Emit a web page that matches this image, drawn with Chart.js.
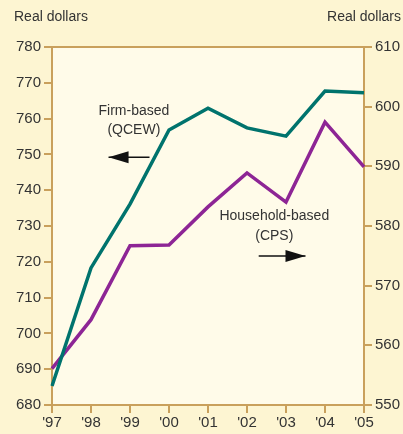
<!DOCTYPE html>
<html>
<head>
<meta charset="utf-8">
<script src="https://cdn.jsdelivr.net/npm/chart.js@4"></script>
<style>
  html, body { margin: 0; padding: 0; background: #fdf5d2; }
  #wrap { width: 403px; height: 434px; position: relative; }
</style>
</head>
<body>
<div id="wrap"><canvas id="chart" width="403" height="434"></canvas></div>
<script>
const years = ["'97", "'98", "'99", "'00", "'01", "'02", "'03", "'04", "'05"];
const firmBased = [685.3, 718.3, 736.1, 756.8, 762.9, 757.4, 755.1, 767.7, 767.2];
const householdBased = [556.1, 564.3, 576.7, 576.8, 583.2, 588.9, 584.0, 597.4, 589.9];
const leftTicks = [680, 690, 700, 710, 720, 730, 740, 750, 760, 770, 780];
const rightTicks = [550, 560, 570, 580, 590, 600, 610];

const axisColor = '#c9a05c';
const fontFam = '"Liberation Sans Narrow", "Arial Narrow", "Liberation Sans", Arial, sans-serif';

// fill plot area and draw frame + annotations
const decor = {
  id: 'decor',
  beforeDraw(chart) {
    const { ctx, chartArea: a } = chart;
    ctx.save();
    ctx.fillStyle = '#fffbe9';
    ctx.fillRect(a.left, a.top, a.right - a.left, a.bottom - a.top);
    ctx.restore();
  },
  afterDraw(chart) {
    const { ctx, chartArea: a, scales } = chart;
    ctx.save();
    ctx.strokeStyle = axisColor;
    ctx.lineWidth = 2;
    ctx.beginPath();
    ctx.moveTo(a.left - 8, a.top);
    ctx.lineTo(a.right + 8, a.top);
    ctx.stroke();

    ctx.fillStyle = '#333';
    ctx.font = '14px ' + fontFam;
    ctx.textBaseline = 'middle';
    ctx.textAlign = 'left';
    ctx.fillText('Real dollars', 14, 17);
    ctx.textAlign = 'right';
    ctx.fillText('Real dollars', 401, 17);

    const x = scales.x, yl = scales.yLeft;
    ctx.textAlign = 'center';
    const fx = x.getPixelForValue(2.1);
    ctx.fillText('Firm-based', fx, yl.getPixelForValue(762.2));
    ctx.fillText('(QCEW)', fx, yl.getPixelForValue(756.8));
    const hx = x.getPixelForValue(5.7);
    ctx.fillText('Household-based', hx, yl.getPixelForValue(732.7));
    ctx.fillText('(CPS)', hx, yl.getPixelForValue(727.2));

    function arrow(x1, x2, y) {
      ctx.strokeStyle = '#111';
      ctx.fillStyle = '#111';
      ctx.lineWidth = 1.5;
      ctx.beginPath();
      ctx.moveTo(x1, y);
      ctx.lineTo(x2, y);
      ctx.stroke();
      const d = x2 > x1 ? 1 : -1;
      ctx.beginPath();
      ctx.moveTo(x2, y);
      ctx.lineTo(x2 - d * 20, y - 6);
      ctx.lineTo(x2 - d * 20, y + 6);
      ctx.closePath();
      ctx.fill();
    }
    arrow(x.getPixelForValue(2.5), x.getPixelForValue(1.45), yl.getPixelForValue(749.2));
    arrow(x.getPixelForValue(5.3), x.getPixelForValue(6.5), yl.getPixelForValue(721.6));
    ctx.restore();
  }
};

new Chart(document.getElementById('chart'), {
  type: 'line',
  data: {
    labels: years,
    datasets: [
      {
        label: 'Firm-based (QCEW)',
        data: firmBased,
        yAxisID: 'yLeft',
        borderColor: '#00736d',
        borderWidth: 3.5,
        pointRadius: 0,
        tension: 0
      },
      {
        label: 'Household-based (CPS)',
        data: householdBased,
        yAxisID: 'yRight',
        borderColor: '#8d2595',
        borderWidth: 3.5,
        pointRadius: 0,
        tension: 0
      }
    ]
  },
  options: {
    responsive: false,
    animation: false,
    layout: { padding: { top: 47, left: 0, right: 0, bottom: 0 } },
    plugins: { legend: { display: false }, tooltip: { enabled: false } },
    scales: {
      x: {
        offset: false,
        grid: { drawOnChartArea: false, tickLength: 8, color: axisColor, lineWidth: 2 },
        border: { color: axisColor, width: 2 },
        ticks: { color: '#333', font: { size: 15, family: fontFam }, padding: 1, maxRotation: 0 },
        afterFit(s) { s.height = 29; }
      },
      yLeft: {
        position: 'left',
        min: leftTicks[0],
        max: leftTicks[leftTicks.length - 1],
        afterBuildTicks(s) { s.ticks = leftTicks.map(v => ({ value: v })); },
        grid: { drawOnChartArea: false, tickLength: 8, color: axisColor, lineWidth: 2 },
        border: { color: axisColor, width: 2 },
        ticks: { color: '#333', font: { size: 15, family: fontFam }, padding: 3 },
        afterFit(s) { s.width = 52; }
      },
      yRight: {
        position: 'right',
        min: rightTicks[0],
        max: rightTicks[rightTicks.length - 1],
        afterBuildTicks(s) { s.ticks = rightTicks.map(v => ({ value: v })); },
        grid: { drawOnChartArea: false, tickLength: 8, color: axisColor, lineWidth: 2 },
        border: { color: axisColor, width: 2 },
        ticks: { color: '#333', font: { size: 15, family: fontFam }, padding: 3 },
        afterFit(s) { s.width = 39; }
      }
    }
  },
  plugins: [decor]
});
</script>
</body>
</html>
